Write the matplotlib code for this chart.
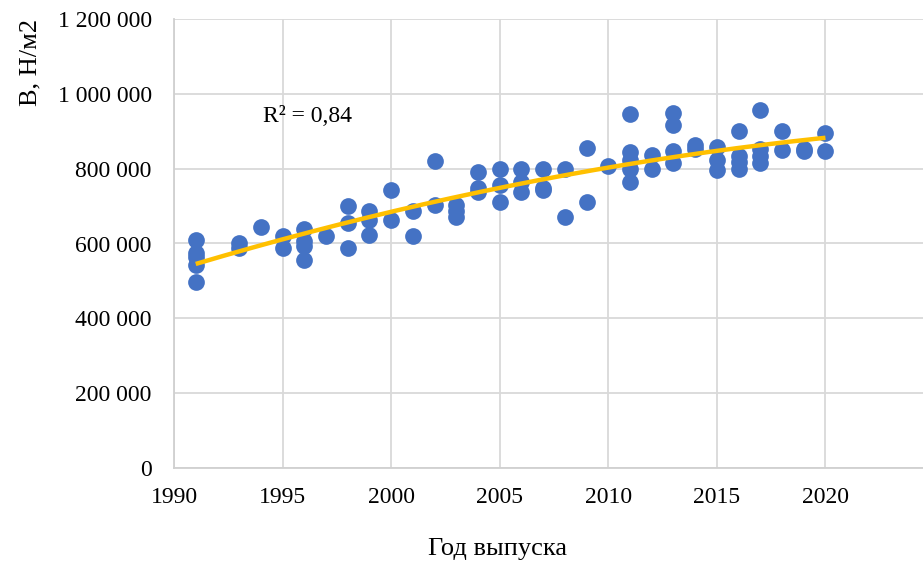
import matplotlib
matplotlib.use("Agg")
from matplotlib import pyplot as plt
from matplotlib.ticker import FuncFormatter
import numpy as np

# Year of manufacture and B value (N/m2) for each sample
years = [
    1991, 1991, 1991, 1991, 1991,
    1993, 1993,
    1994,
    1995, 1995,
    1996, 1996, 1996, 1996,
    1997,
    1998, 1998, 1998,
    1999, 1999, 1999,
    2000, 2000,
    2001, 2001,
    2002, 2002,
    2003, 2003, 2003,
    2004, 2004, 2004,
    2005, 2005, 2005,
    2006, 2006, 2006,
    2007, 2007, 2007,
    2008, 2008,
    2009, 2009,
    2010,
    2011, 2011, 2011, 2011, 2011,
    2012, 2012,
    2013, 2013, 2013, 2013,
    2014, 2014,
    2015, 2015, 2015,
    2016, 2016, 2016, 2016,
    2017, 2017, 2017, 2017,
    2018, 2018,
    2019, 2019,
    2020, 2020,
]
b_values = [
    610000, 575000, 565000, 542000, 498000,
    600000, 588000,
    645000,
    620000, 587000,
    640000, 606000, 592000, 557000,
    619000,
    700000, 655000, 587000,
    688000, 664000, 624000,
    742000, 664000,
    688000, 620000,
    820000, 702000,
    703000, 688000, 671000,
    791000, 748000, 738000,
    799000, 756000, 712000,
    800000, 765000, 737000,
    799000, 748000, 742000,
    800000, 670000,
    856000, 712000,
    806000,
    945000, 845000, 823000, 800000, 765000,
    837000, 800000,
    949000, 916000, 846000, 816000,
    863000, 853000,
    857000, 824000, 797000,
    900000, 835000, 817000, 800000,
    958000, 853000, 835000, 814000,
    900000, 850000,
    853000, 848000,
    896000, 848000,
]

x = np.array(years, dtype=float)
y = np.array(b_values, dtype=float)

# second order polynomial trend
coef = np.polyfit(x, y, 2)
x_fit = np.linspace(x.min(), x.max(), 200)
y_fit = np.polyval(coef, x_fit)

plt.rcParams["font.family"] = ["Liberation Serif", "DejaVu Serif"]

W, H = 923, 565
fig = plt.figure(figsize=(W / 100, H / 100), dpi=100)
left, right, top, bottom = 174, 934, 19, 468
ax = fig.add_axes([left / W, 1 - bottom / H, (right - left) / W, (bottom - top) / H])

ax.scatter(x, y, s=145, color="#4472C4", zorder=3, linewidths=0)
ax.plot(x_fit, y_fit, color="#FFC000", linewidth=3.2, zorder=4, solid_capstyle="butt")

ax.set_xlim(1990, 2025)
ax.set_ylim(0, 1200000)
ax.set_xticks(range(1990, 2021, 5))
ax.set_yticks(range(0, 1200001, 200000))
ax.yaxis.set_major_formatter(FuncFormatter(lambda v, _: f"{int(v):,}".replace(",", " ")))

ax.grid(True, color="#d9d9d9", linewidth=1.3)
ax.set_axisbelow(True)
for side in ("top", "right"):
    ax.spines[side].set_visible(False)
for side in ("left", "bottom"):
    ax.spines[side].set_color("#d0d0d0")
    ax.spines[side].set_linewidth(1.3)
ax.tick_params(length=0, labelsize=17, colors="black")
ax.tick_params(axis="y", pad=16)
ax.tick_params(axis="x", pad=14)

fig.text(30 / W, 1 - 62 / H, "В, Н/м2", rotation=90, fontsize=19, ha="center", va="center")
fig.text(497 / W, 1 - 549 / H, "Год выпуска", fontsize=19, ha="center", va="center")
fig.text(263 / W, 1 - 116 / H, "R² = 0,84", fontsize=17, ha="left", va="center")

fig.savefig("out.png", dpi=100)
